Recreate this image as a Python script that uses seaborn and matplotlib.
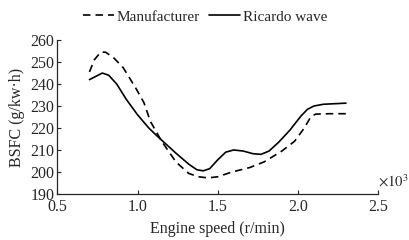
import pandas as pd
import matplotlib.pyplot as plt
import seaborn as sns

# engine speed in 10^3 r/min
speed_manu = [0.70, 0.73, 0.77, 0.80, 0.85, 0.91, 0.99, 1.04, 1.08, 1.15, 1.24, 1.32, 1.38, 1.44, 1.50,
              1.59, 1.70, 1.79, 1.90, 1.98, 2.04, 2.08, 2.11, 2.20, 2.30]
bsfc_manu = [245.5, 251.0, 254.5, 254.5, 252.0, 247.5, 238.0, 231.5, 223.0, 214.0, 204.5, 199.3, 197.8, 197.3, 197.8,
             200.0, 202.0, 204.6, 209.5, 214.0, 220.0, 225.0, 226.3, 226.5, 226.5]

speed_rw = [0.70, 0.74, 0.78, 0.82, 0.87, 0.93, 1.00, 1.07, 1.12, 1.18, 1.24, 1.32, 1.37, 1.41, 1.45,
            1.50, 1.55, 1.60, 1.66, 1.72, 1.77, 1.82, 1.88, 1.95, 2.02, 2.06, 2.10, 2.16, 2.30]
bsfc_rw = [242.0, 243.5, 245.0, 244.0, 240.0, 233.0, 226.0, 220.0, 216.5, 212.5, 208.5, 203.5, 201.0, 200.5, 201.5,
           205.5, 209.0, 210.0, 209.5, 208.3, 208.0, 209.5, 213.5, 219.0, 225.5, 228.5, 230.0, 230.8, 231.3]

df = pd.concat([
    pd.DataFrame({'speed': speed_manu, 'bsfc': bsfc_manu, 'src': 'Manufacturer'}),
    pd.DataFrame({'speed': speed_rw, 'bsfc': bsfc_rw, 'src': 'Ricardo wave'}),
])

sns.set_style("ticks")
plt.rcParams['font.family'] = ['Liberation Serif', 'DejaVu Serif']
plt.rcParams['mathtext.fontset'] = 'stix'

fig = plt.figure(figsize=(4.1, 2.4), dpi=100)
ax = fig.add_axes([0.140, 0.192, 0.782, 0.641])

sns.lineplot(data=df, x='speed', y='bsfc', style='src', color='black', linewidth=1.2,
             dashes={'Manufacturer': (4.5, 3), 'Ricardo wave': ''}, sort=False, ax=ax, legend=False)

ax.set_xlim(0.5, 2.5)
ax.set_ylim(190, 260)
ax.set_xticks([0.5, 1.0, 1.5, 2.0, 2.5])
ax.set_xticklabels(['0.5', '1.0', '1.5', '2.0', '2.5'])
ax.set_yticks(range(190, 261, 10))
ax.tick_params(direction='in', length=3, width=0.8, labelsize=11.5)
ax.tick_params(axis='x', pad=4)
ax.tick_params(axis='y', pad=2)
ax.set_xlabel('Engine speed (r/min)', fontsize=11.5, labelpad=4)
ax.set_ylabel('BSFC (g/kw·h)', fontsize=11.5, labelpad=4)
sns.despine(ax=ax)
for s in ['left', 'bottom']:
    ax.spines[s].set_linewidth(0.9)

ax.text(1.0, 0.03, r'$\times10^3$', transform=ax.transAxes, fontsize=10.5, ha='left', va='bottom')

handles = [plt.Line2D([], [], color='black', lw=1.2, dashes=(4.5, 3)),
           plt.Line2D([], [], color='black', lw=1.2)]
fig.legend(handles, ['Manufacturer', 'Ricardo wave'], loc='center', bbox_to_anchor=(0.5, 0.93),
           ncol=2, frameon=False, fontsize=11, handlelength=2.0, columnspacing=0.6, handletextpad=0.2)

fig.savefig('out.png', dpi=100, facecolor='white')
